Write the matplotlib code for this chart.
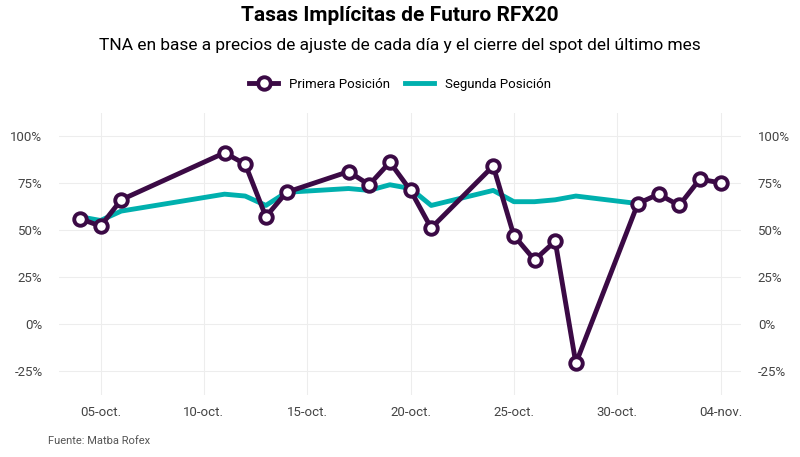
import matplotlib
matplotlib.use("Agg")
import matplotlib.pyplot as plt
import pandas as pd
from matplotlib.ticker import FuncFormatter

plt.rcParams['font.family'] = ['Roboto', 'DejaVu Sans']

p1_dates = ["2022-10-04","2022-10-05","2022-10-06","2022-10-11","2022-10-12","2022-10-13","2022-10-14",
            "2022-10-17","2022-10-18","2022-10-19","2022-10-20","2022-10-21","2022-10-24","2022-10-25",
            "2022-10-26","2022-10-27","2022-10-28","2022-10-31","2022-11-01","2022-11-02","2022-11-03","2022-11-04"]
p1_vals = [56,52,66,91,85,57,70,81,74,86,71,51,84,47,34,44,-21,64,69,63,77,75]
p2_dates = ["2022-10-04","2022-10-05","2022-10-06","2022-10-11","2022-10-12","2022-10-13","2022-10-14",
            "2022-10-17","2022-10-18","2022-10-19","2022-10-20","2022-10-21","2022-10-24","2022-10-25",
            "2022-10-26","2022-10-27","2022-10-28","2022-10-31"]
p2_vals = [57,55,60,69,68,63,70,72,71,74,72,63,71,65,65,66,68,64]
tick_dates = ["2022-10-05","2022-10-10","2022-10-15","2022-10-20","2022-10-25","2022-10-30","2022-11-04"]
tick_labels = ["05-oct.","10-oct.","15-oct.","20-oct.","25-oct.","30-oct.","04-nov."]

purple = "#3b0a45"; teal = "#00b0ae"
fig = plt.figure(figsize=(8, 4.57), dpi=100)
ax = fig.add_axes([0.074, 0.135, 0.8525, 0.617])
ax.plot(pd.to_datetime(p2_dates), p2_vals, color=teal, lw=3.5, label="Segunda Posición", zorder=2)
ax.plot(pd.to_datetime(p1_dates), p1_vals, color=purple, lw=3.5, marker='o', ms=9,
        mfc='white', mec=purple, mew=2.8, label="Primera Posición", zorder=3)
ax.set_ylim(-38, 112)
ax.set_yticks([-25,0,25,50,75,100])
ax.yaxis.set_major_formatter(FuncFormatter(lambda v, p: f"{int(v)}%"))
ax.set_xlim(pd.Timestamp("2022-10-03"), pd.Timestamp("2022-11-05"))
ax.set_xticks(pd.to_datetime(tick_dates))
ax.set_xticklabels(tick_labels)
ax.grid(True, color="#ededed", lw=0.8)
for s in ax.spines.values(): s.set_visible(False)
ax.tick_params(length=0, labelsize=9.5, colors="#444444", labelright=True)
ax.tick_params(axis='x', pad=8)
ax.tick_params(axis='y', pad=12)
handles, labels = ax.get_legend_handles_labels()
fig.legend(handles[::-1], labels[::-1], loc='center', bbox_to_anchor=(0.5, 0.815), ncol=2,
           frameon=False, fontsize=9.5, handlelength=2.2, columnspacing=1.2)
fig.text(0.5, 0.965, "Tasas Implícitas de Futuro RFX20", ha='center', va='center', fontsize=15, fontweight='bold')
fig.text(0.5, 0.9, "TNA en base a precios de ajuste de cada día y el cierre del spot del último mes", ha='center', va='center', fontsize=12.5)
fig.text(0.06, 0.028, "Fuente: Matba Rofex", fontsize=8, color="#555555")
fig.savefig("out.png", dpi=100)
